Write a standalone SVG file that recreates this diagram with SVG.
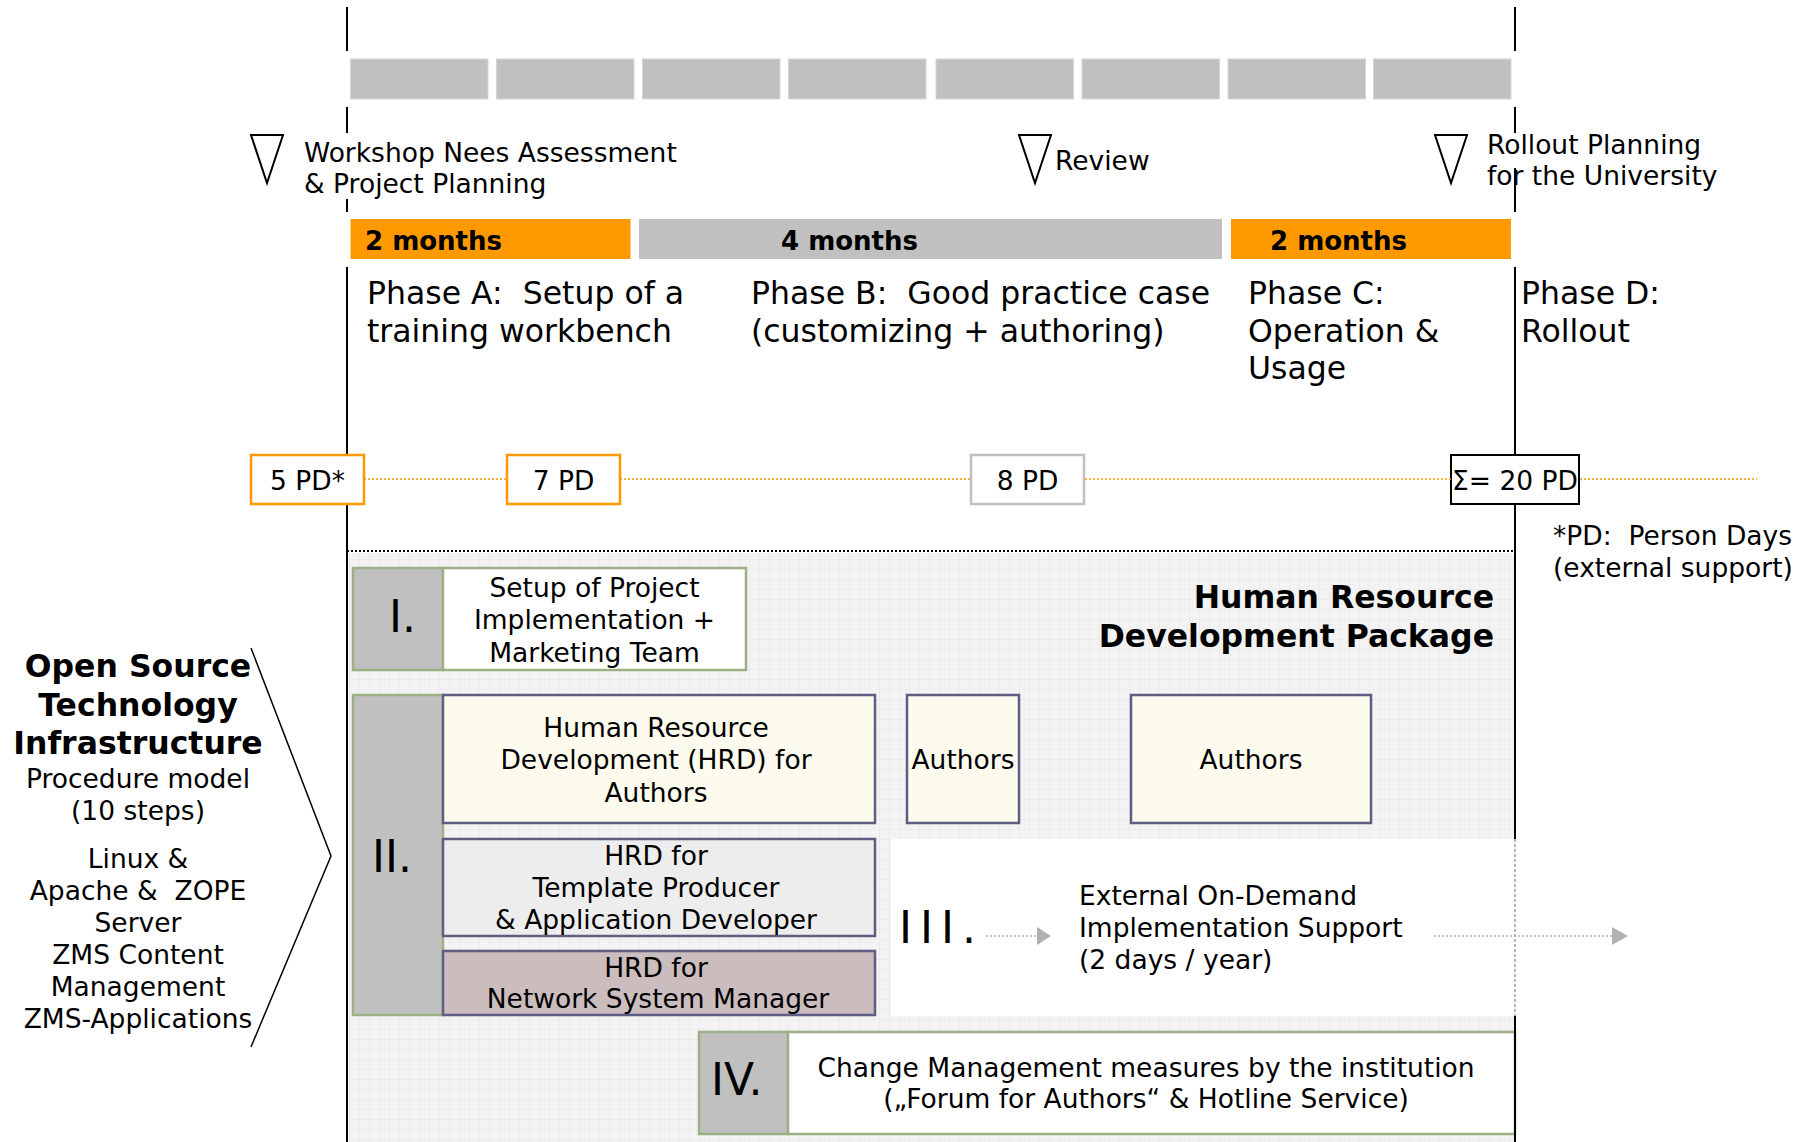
<svg xmlns="http://www.w3.org/2000/svg" width="1814" height="1142" viewBox="0 0 1814 1142">
<defs>
<style>
text{font-family:"DejaVu Sans","Verdana",sans-serif;fill:#000;white-space:pre;}
.t{font-size:26.5px;}
.ph{font-size:31.5px;}
.b{font-weight:bold;}
.mo{font-size:26px;font-weight:bold;}
.rn{font-size:44px;}
.c{text-anchor:middle;}
.vl{stroke:#000;stroke-width:2;fill:none;}
.bar{fill:#c0c0c0;stroke:#d6d6d6;stroke-width:1;}
.org{fill:#ff9900;}
.ms{fill:#fff;stroke:#000;stroke-width:2;}
.od{stroke:#ff9900;stroke-width:1.5;stroke-dasharray:2 2;fill:none;}
.gn{stroke:#9cb083;stroke-width:2.5;}
.sl{stroke:#5e5e82;stroke-width:2.5;}
.gd{stroke:#b0b0b0;stroke-width:1.5;stroke-dasharray:2 2;fill:none;}
</style>
<pattern id="grid" width="10" height="10" patternUnits="userSpaceOnUse">
<rect width="10" height="10" fill="#f3f3f3"/>
<path d="M10 0V10M0 10H10" stroke="#e6e6e6" stroke-width="1" fill="none"/>
</pattern>
</defs>
<rect width="1814" height="1142" fill="#fff"/>

<g id="background">
<rect x="349" y="553" width="1165" height="589" fill="url(#grid)"/>
<line x1="347" y1="551" x2="1515" y2="551" stroke="#000" stroke-width="2" stroke-dasharray="2 2"/>
</g>

<g id="timeline-lines">
<path class="vl" d="M347 7V51M347 107V133M347 199V212M347 267V454M347 504V1142"/>
<path class="vl" d="M1515 7V51M1515 107V133M1515 168V212M1515 267V454M1515 504V839M1515 1016V1142"/>
</g>

<g id="month-bars">
<rect class="bar" x="350.5" y="59" width="137.5" height="40"/>
<rect class="bar" x="496.5" y="59" width="137.5" height="40"/>
<rect class="bar" x="642.5" y="59" width="137.5" height="40"/>
<rect class="bar" x="788.5" y="59" width="137.5" height="40"/>
<rect class="bar" x="936" y="59" width="137.5" height="40"/>
<rect class="bar" x="1082" y="59" width="137.5" height="40"/>
<rect class="bar" x="1228" y="59" width="137.5" height="40"/>
<rect class="bar" x="1373.5" y="59" width="137.5" height="40"/>
</g>

<g id="milestone-workshop">
<polygon class="ms" points="251,135 283,135 267,183"/>
<text class="t" x="304" y="162">Workshop Nees Assessment</text>
<text class="t" x="304" y="193">&amp; Project Planning</text>
</g>
<g id="milestone-review">
<polygon class="ms" points="1019,135 1051,135 1035,183"/>
<text class="t" x="1055" y="170">Review</text>
</g>
<g id="milestone-rollout">
<polygon class="ms" points="1435,135 1467,135 1451,183"/>
<text class="t" x="1487" y="154">Rollout Planning</text>
<text class="t" x="1487" y="185">for the University</text>
</g>

<g id="duration-a">
<rect class="org" x="350.5" y="219" width="280" height="40"/>
<text class="mo" x="365" y="250">2 months</text>
</g>
<g id="duration-b">
<rect x="639" y="219" width="583" height="40" fill="#c0c0c0"/>
<text class="mo" x="781" y="250">4 months</text>
</g>
<g id="duration-c">
<rect class="org" x="1231" y="219" width="280" height="40"/>
<text class="mo" x="1270" y="250">2 months</text>
</g>

<g id="phase-a">
<text class="ph" x="367" y="304">Phase A:  Setup of a</text>
<text class="ph" x="367" y="341.5">training workbench</text>
</g>
<g id="phase-b">
<text class="ph" x="751" y="304">Phase B:  Good practice case</text>
<text class="ph" x="751" y="341.5">(customizing + authoring)</text>
</g>
<g id="phase-c">
<text class="ph" x="1248" y="304">Phase C:</text>
<text class="ph" x="1248" y="341.5">Operation &amp;</text>
<text class="ph" x="1248" y="379">Usage</text>
</g>
<g id="phase-d">
<text class="ph" x="1521" y="304">Phase D:</text>
<text class="ph" x="1521" y="341.5">Rollout</text>
</g>

<g id="pd-5">
<rect x="251" y="455" width="113" height="49" fill="#fff" stroke="#ff9900" stroke-width="2.5"/>
<text class="t c" x="307.5" y="490">5 PD*</text>
</g>
<g id="pd-7">
<rect x="507" y="455" width="113" height="49" fill="#fff" stroke="#ff9900" stroke-width="2.5"/>
<text class="t c" x="563.5" y="490">7 PD</text>
</g>
<g id="pd-8">
<rect x="971" y="455" width="113" height="49" fill="#fff" stroke="#c0c0c0" stroke-width="2.5"/>
<text class="t c" x="1027.5" y="490">8 PD</text>
</g>
<g id="pd-sum">
<rect x="1451" y="455" width="128" height="49" fill="#fff" stroke="#000" stroke-width="2"/>
<text class="t c" x="1515" y="490">Σ= 20 PD</text>
</g>
<g id="footnote">
<text class="t" x="1553" y="545">*PD:  Person Days</text>
<text class="t" x="1553" y="577">(external support)</text>
</g>

<g id="hrd-title">
<text class="ph b" x="1494" y="608" text-anchor="end">Human Resource</text>
<text class="ph b" x="1494" y="647" text-anchor="end">Development Package</text>
</g>

<g id="block-I">
<rect class="gn" x="353" y="568" width="90" height="102" fill="#c0c0c0"/>
<rect class="gn" x="443" y="568" width="303" height="102" fill="#fff"/>
<text class="rn" x="389" y="632">I.</text>
<text class="t c" x="594.5" y="597">Setup of Project</text>
<text class="t c" x="594.5" y="629">Implementation +</text>
<text class="t c" x="594.5" y="662">Marketing Team</text>
</g>

<g id="block-II">
<rect class="gn" x="353" y="695" width="90" height="320" fill="#c0c0c0"/>
<text class="rn" x="372" y="872">II.</text>
</g>
<g id="hrd-authors">
<rect class="sl" x="443" y="695" width="432" height="128" fill="#fdfaee"/>
<text class="t c" x="656" y="737">Human Resource</text>
<text class="t c" x="656" y="769">Development (HRD) for</text>
<text class="t c" x="656" y="802">Authors</text>
</g>
<g id="hrd-template">
<rect class="sl" x="443" y="839" width="432" height="97" fill="#ededed"/>
<text class="t c" x="656" y="865">HRD for</text>
<text class="t c" x="656" y="897">Template Producer</text>
<text class="t c" x="656" y="929">&amp; Application Developer</text>
</g>
<g id="hrd-network">
<rect class="sl" x="443" y="951" width="432" height="64" fill="#cbbdbd"/>
<text class="t c" x="656" y="977">HRD for</text>
<text class="t c" x="658" y="1008">Network System Manager</text>
</g>
<g id="authors-1">
<rect class="sl" x="907" y="695" width="112" height="128" fill="#fdfaee"/>
<text class="t c" x="963" y="769">Authors</text>
</g>
<g id="authors-2">
<rect class="sl" x="1131" y="695" width="240" height="128" fill="#fdfaee"/>
<text class="t c" x="1251" y="769">Authors</text>
</g>

<g id="block-III">
<rect x="891" y="839" width="624" height="177" fill="#fff"/>
<line x1="1515" y1="839" x2="1515" y2="1016" stroke="#a0a0a0" stroke-width="1.5" stroke-dasharray="3 2"/>
<text class="rn" x="899" y="943" letter-spacing="8">III.</text>
<text class="t" x="1079" y="905">External On-Demand</text>
<text class="t" x="1079" y="937">Implementation Support</text>
<text class="t" x="1079" y="969">(2 days / year)</text>
</g>

<g id="connectors">
<path class="od" d="M364 479H506M620 479H970M1085 479H1451M1580 479H1757"/>
<path class="gd" d="M986 936H1038M1434 936H1612"/>
<polygon points="1037,927 1051,936 1037,945" fill="#b0b0b0"/>
<polygon points="1612,927 1628,936 1612,945" fill="#b0b0b0"/>
</g>

<g id="block-IV">
<rect class="gn" x="699" y="1032" width="89" height="102" fill="#c0c0c0"/>
<rect class="gn" x="788" y="1032" width="727" height="102" fill="#fff"/>
<line x1="1515" y1="1016" x2="1515" y2="1142" stroke="#000" stroke-width="2"/>
<text class="rn" x="711" y="1095">IV.</text>
<text class="t c" x="1146" y="1077">Change Management measures by the institution</text>
<text class="t c" x="1146" y="1108">(„Forum for Authors“ &amp; Hotline Service)</text>
</g>

<g id="infrastructure">
<path d="M251 648L331 856L251 1047" fill="none" stroke="#000" stroke-width="1.5"/>
<text class="ph b c" x="138" y="677">Open Source</text>
<text class="ph b c" x="138" y="716">Technology</text>
<text class="ph b c" x="138" y="754">Infrastructure</text>
<text class="t c" x="138" y="788">Procedure model</text>
<text class="t c" x="138" y="820">(10 steps)</text>
<text class="t c" x="138" y="868">Linux &amp;</text>
<text class="t c" x="138" y="900">Apache &amp;  ZOPE</text>
<text class="t c" x="138" y="932">Server</text>
<text class="t c" x="138" y="964">ZMS Content</text>
<text class="t c" x="138" y="996">Management</text>
<text class="t c" x="138" y="1028">ZMS-Applications</text>
</g>
</svg>
